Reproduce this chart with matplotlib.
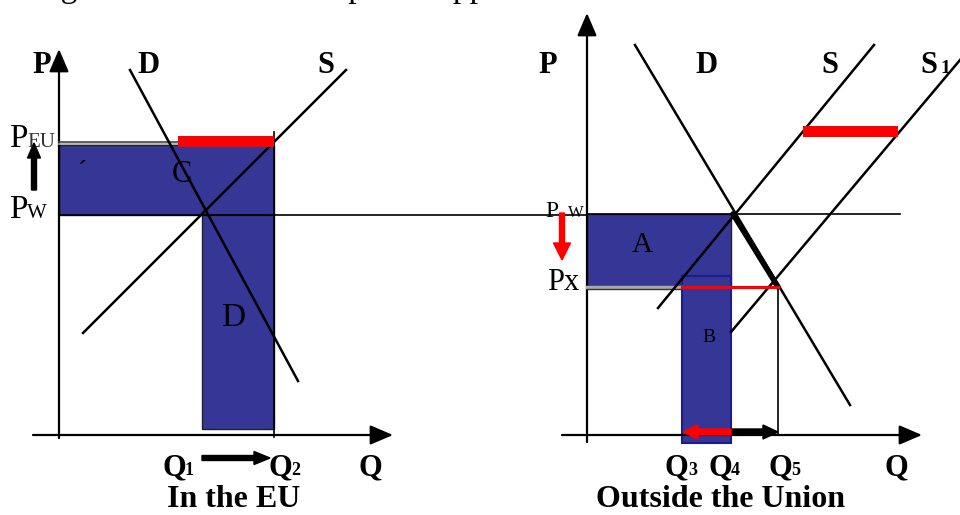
import matplotlib.pyplot as plt
from matplotlib.patches import Rectangle

plt.rcParams['font.family'] = ['Liberation Serif', 'DejaVu Serif']

# colours
blue = "#363696"
red = "#ff0000"

# ---- left panel: in the EU (units: quantity Q, price P) ----
eu_pw = 220          # world price
eu_peu = 290         # EU support price
eu_q1 = 143
eu_q2 = 215
eu_demand_q = [71, 239]
eu_demand_p = [365, 54]
eu_supply_q = [24, 287]
eu_supply_p = [102, 365]
eu_export_q = [119, 215]      # red bar (exports at P_EU)
eu_export_p = [288, 299]

# ---- right panel: outside the union ----
w_pw = 221
w_px = 148
w_q3 = 95
w_q4 = 144
w_q5 = 191
w_demand_q = [48, 263]
w_demand_p = [390, 30]
w_supply_q = [71, 287]
w_supply_p = [127, 390]
w_supply1_q = [144, 373]
w_supply1_p = [103, 375]
w_bar_q = [216, 311]
w_bar_p = [298, 309]

fig = plt.figure(figsize=(9.6, 5.15), dpi=100)
axl = fig.add_axes([0, 0, 0.5, 1])
axr = fig.add_axes([0.5, 0, 0.5, 1])
axl.set_xlim(-59, 421)
axl.set_ylim(-80, 435)
axr.set_xlim(-107, 373)
axr.set_ylim(-80, 435)
for ax in (axl, axr):
    ax.axis("off")

bold = dict(fontweight="bold", color="k")
head = "-|>,head_length=0.7,head_width=0.3"

# ======== left ========
ax = axl
# axes with arrows
ax.annotate("", xy=(0, 386), xytext=(0, -3),
            arrowprops=dict(arrowstyle=head, lw=1.6, color="k",
                            mutation_scale=20, shrinkA=0, shrinkB=0))
ax.annotate("", xy=(334, 0), xytext=(-26, 0),
            arrowprops=dict(arrowstyle=head, lw=1.6, color="k",
                            mutation_scale=20, shrinkA=0, shrinkB=0))

# shaded areas C and D
ax.add_patch(Rectangle((0, eu_pw), eu_q2, eu_peu - eu_pw, facecolor=blue,
                       edgecolor="#222", lw=1, zorder=2))
ax.add_patch(Rectangle((eu_q1, 6), eu_q2 - eu_q1, eu_pw - 6, facecolor=blue,
                       edgecolor="#222", lw=1, zorder=2))
ax.plot([0, eu_q2], [eu_peu + 3, eu_peu + 3], color="#444", lw=1.2, zorder=3)
ax.plot([0, eu_q2], [eu_peu + 1.5, eu_peu + 1.5], color="#aaa", lw=1.2, zorder=3)
ax.plot([eu_q2, eu_q2], [-2, 303], color="k", lw=1.2, zorder=3)

# world price line across both panels
ax.plot([0, 528], [eu_pw, eu_pw], color="k", lw=1.2, clip_on=False, zorder=3)

# demand and supply
ax.plot(eu_demand_q, eu_demand_p, color="k", lw=1.8, zorder=4)
ax.plot(eu_supply_q, eu_supply_p, color="k", lw=1.8, zorder=4)

# red export bar
ax.add_patch(Rectangle((eu_export_q[0], eu_export_p[0]), eu_export_q[1] - eu_export_q[0],
                       eu_export_p[1] - eu_export_p[0], facecolor=red, edgecolor="none", zorder=5))

# arrows
ax.arrow(-25, 245, 0, 47, width=5, head_width=13, head_length=15,
         length_includes_head=True, color="k", zorder=5)
ax.arrow(eu_q1, -23, 68, 0, width=5, head_width=13, head_length=16,
         length_includes_head=True, color="k", zorder=5)

# labels
ax.text(-17, 362, "P", fontsize=22, ha="center", va="baseline", **bold)
ax.text(89, 362, "D", fontsize=22, ha="center", va="baseline", **bold)
ax.text(267, 362, "S", fontsize=22, ha="center", va="baseline", **bold)
ax.text(-50, 288, "P", fontsize=24, ha="left", va="baseline")
ax.text(-32, 288, "EU", fontsize=15, ha="left", va="baseline", color="#333")
ax.text(-50, 217, "P", fontsize=24, ha="left", va="baseline")
ax.text(-32, 217, "W", fontsize=15, ha="left", va="baseline")
ax.text(24, 262, "\u00b4", fontsize=20, ha="center", va="center", zorder=6)
ax.text(123, 260, "C", fontsize=22, ha="center", va="center", zorder=6)
ax.text(174, 117, "D", fontsize=24, ha="center", va="center", zorder=6)
ax.text(103, -40, "Q", fontsize=22, ha="left", va="baseline", **bold)
ax.text(126, -40, "1", fontsize=13, ha="left", va="baseline", **bold)
ax.text(209, -40, "Q", fontsize=22, ha="left", va="baseline", **bold)
ax.text(232, -40, "2", fontsize=13, ha="left", va="baseline", **bold)
ax.text(299, -40, "Q", fontsize=22, ha="left", va="baseline", **bold)
ax.text(175, -72, "In the EU", fontsize=23, ha="center", va="baseline", **bold)

# ======== right ========
ax = axr
ax.annotate("", xy=(0, 422), xytext=(0, -7),
            arrowprops=dict(arrowstyle=head, lw=1.6, color="k",
                            mutation_scale=20, shrinkA=0, shrinkB=0))
ax.annotate("", xy=(335, 0), xytext=(-25, 0),
            arrowprops=dict(arrowstyle=head, lw=1.6, color="k",
                            mutation_scale=20, shrinkA=0, shrinkB=0))

# areas A and B
ax.add_patch(Rectangle((0, w_px + 1), w_q4, w_pw - w_px - 1, facecolor=blue,
                       edgecolor="#222", lw=1, zorder=2))
ax.add_patch(Rectangle((w_q3, -8), w_q4 - w_q3, 167, facecolor=blue,
                       edgecolor="#1c1c8c", lw=1.5, zorder=2))
ax.plot([0, w_q3], [w_px, w_px], color="#aaa", lw=2.5, zorder=3)
ax.plot([0, w_q3], [w_px - 1.5, w_px - 1.5], color="#333", lw=1, zorder=3)
ax.plot([w_q5, w_q5], [0, w_px], color="k", lw=1.2, zorder=3)

# world price line
ax.plot([0, 313], [w_pw, w_pw], color="k", lw=1.2, zorder=3)

# demand and supplies
ax.plot(w_demand_q, w_demand_p, color="k", lw=1.8, zorder=4)
ax.plot(w_supply_q, w_supply_p, color="k", lw=1.8, zorder=4)
ax.plot(w_supply1_q, w_supply1_p, color="k", lw=1.8, zorder=4)
ax.plot([w_q4 + 2, w_q5], [w_pw, w_px], color="k", lw=4, solid_capstyle="round", zorder=4)

# red lines
ax.plot([w_q3, w_q5], [w_px, w_px], color=red, lw=2.3, zorder=5)
ax.add_patch(Rectangle((w_bar_q[0], w_bar_p[0]), w_bar_q[1] - w_bar_q[0],
                       w_bar_p[1] - w_bar_p[0], facecolor=red, edgecolor="none", zorder=5))

# arrows
ax.arrow(-25, 222, 0, -47, width=5, head_width=17, head_length=17,
         length_includes_head=True, color=red, zorder=5)
ax.arrow(w_q4, 3, w_q5 - w_q4, 0, width=6, head_width=14, head_length=15,
         length_includes_head=True, color="k", zorder=5)
ax.arrow(w_q4, 3, w_q3 + 1 - w_q4, 0, width=6, head_width=14, head_length=15,
         length_includes_head=True, color=red, zorder=6)

# labels
ax.text(-39, 362, "P", fontsize=22, ha="center", va="baseline", **bold)
ax.text(120, 362, "D", fontsize=22, ha="center", va="baseline", **bold)
ax.text(243, 362, "S", fontsize=22, ha="center", va="baseline", **bold)
ax.text(333, 362, "S", fontsize=22, ha="left", va="baseline", **bold)
ax.text(353, 362, "1", fontsize=14, ha="left", va="baseline", **bold)
ax.text(-42, 218, "P", fontsize=17, ha="left", va="baseline")
ax.text(-19, 218, "W", fontsize=12, ha="left", va="baseline")
ax.text(-40, 145, "Px", fontsize=22, ha="left", va="baseline")
ax.text(55, 190, "A", fontsize=21, ha="center", va="center", zorder=6)
ax.text(122, 98, "B", fontsize=14, ha="center", va="center", zorder=6)
ax.text(78, -40, "Q", fontsize=22, ha="left", va="baseline", **bold)
ax.text(101, -40, "3", fontsize=13, ha="left", va="baseline", **bold)
ax.text(121, -40, "Q", fontsize=22, ha="left", va="baseline", **bold)
ax.text(144, -40, "4", fontsize=13, ha="left", va="baseline", **bold)
ax.text(181, -40, "Q", fontsize=22, ha="left", va="baseline", **bold)
ax.text(204, -40, "5", fontsize=13, ha="left", va="baseline", **bold)
ax.text(298, -40, "Q", fontsize=22, ha="left", va="baseline", **bold)
ax.text(133, -72, "Outside the Union", fontsize=23, ha="center", va="baseline", **bold)

# caption, cut off by the top edge as in the source scan
fig.text(33 / 960, 1 + 3 / 515, "Figure 3.3: The market price support causes a trade distortion",
         fontsize=24, ha="left", va="baseline")

fig.savefig("out.png", dpi=100)
